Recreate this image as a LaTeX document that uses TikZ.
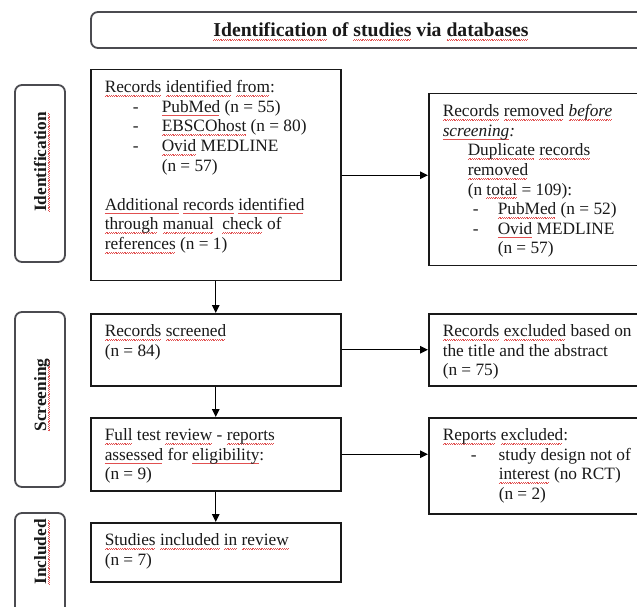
\documentclass[tikz,border=0pt]{standalone}
\usepackage{fontspec}
\setmainfont{Liberation Serif}
\usetikzlibrary{arrows.meta}
\definecolor{sqred}{RGB}{225,80,80}
\definecolor{txt}{RGB}{25,25,25}
\definecolor{frame}{RGB}{75,75,80}
\newsavebox\sqbox
\newcommand\sq[1]{\sbox\sqbox{#1}\rlap{\hbox to\wd\sqbox{\color{sqred}\leaders\hbox{\rule[-3.6pt]{0.9pt}{0.6pt}\rule[-2.9pt]{0.9pt}{0.6pt}}\hfill}}\usebox\sqbox}
\newcommand\bxc[3]{\parbox[c][#2][t]{#1}{\fontsize{17.3}{19.6}\selectfont\color{txt}\leftskip=14pt\parindent=0pt\vspace*{9.3pt}\strut #3}}
\tikzset{
  mainbox/.style={draw=black!90, line width=1.5pt, inner sep=0pt, anchor=north west},
  stagebox/.style={draw=frame, line width=1.8pt, rounded corners=7pt, inner sep=0pt, minimum width=50pt},
  stagelabel/.style={rotate=90, inner sep=0pt, text height=12pt, text depth=0pt, font=\fontsize{17.3}{20}\selectfont\bfseries, text=txt},
  arr/.style={draw=black, line width=1.3pt, -{Triangle[length=8pt,width=7.5pt]}}
}
\begin{document}
\begin{tikzpicture}[x=1pt,y=1pt]
\useasboundingbox (0,0) rectangle (637,606);
\clip (0,0) rectangle (637,606);
\fill[white] (0,0) rectangle (637,606);
% title
\node[draw=frame, line width=1.8pt, rounded corners=7pt, minimum width=560pt, minimum height=36pt,
      text height=16pt, text depth=2pt, inner sep=0pt, font=\fontsize{19.7}{23}\selectfont\bfseries, text=txt]
  (title) at (371,576) {\sq{Identification} of \sq{studies} via \sq{databases}};
% stage boxes
\node[stagebox, minimum height=177pt] (sid) at (40,432.5) {};
\node[stagelabel] (lid) at (40,444) {\sq{Identification}};
\node[stagebox, minimum height=175pt] (ssc) at (40,206.5) {};
\node[stagelabel] (lsc) at (40,211) {\sq{Screening}};
\node[stagebox, minimum height=140pt] (sin) at (40,23) {};
\node[stagelabel] (lin) at (40,54) {\sq{Included}};
% main column
\node[mainbox] (b1) at (90,537) {\bxc{250pt}{211pt}{%
\sq{Records} \sq{identified} \sq{from}:\\
\hspace*{28pt}\makebox[29pt][l]{-}\sq{PubMed} (n = 55)\\
\hspace*{28pt}\makebox[29pt][l]{-}\sq{EBSCOhost} (n = 80)\\
\hspace*{28pt}\makebox[29pt][l]{-}\sq{Ovid} MEDLINE\\
\hspace*{57pt}(n = 57)\\[19.6pt]
\sq{Additional} \sq{records} \sq{identified}\\
\sq{through} \sq{manual}\ \ \sq{check} of\\
\sq{references} (n = 1)}};
\node[mainbox] (b2) at (90,293) {\bxc{250pt}{72pt}{%
\sq{Records} \sq{screened}\\
(n = 84)}};
\node[mainbox] (b3) at (90,189) {\bxc{250pt}{73pt}{%
\sq{Full} test \sq{review}\ - \sq{reports}\\
\sq{assessed} for \sq{eligibility}:\\
(n = 9)}};
\node[mainbox] (b4) at (90,84) {\bxc{250pt}{59pt}{%
\sq{Studies} \sq{included} \sq{in} \sq{review}\\
(n = 7)}};
% right column
\node[mainbox] (r1) at (428,513) {\bxc{223pt}{172pt}{%
\sq{Records} \sq{removed} \textit{\sq{before}}\\
\textit{\sq{screening}:}\\
\hspace*{25pt}\sq{Duplicate} \sq{records}\\
\hspace*{25pt}\sq{removed}\\
\hspace*{25pt}(n \sq{total} = 109):\\
\hspace*{30pt}\makebox[25pt][l]{-}\sq{PubMed} (n = 52)\\
\hspace*{30pt}\makebox[25pt][l]{-}\sq{Ovid} MEDLINE\\
\hspace*{55pt}(n = 57)}};
\node[mainbox] (r2) at (428,293) {\bxc{223pt}{72pt}{%
\sq{Records} \sq{excluded} based on\\
the title and the abstract\\
(n = 75)}};
\node[mainbox] (r3) at (428,189) {\bxc{223pt}{96pt}{%
\sq{Reports} \sq{excluded}:\\
\hspace*{28pt}\makebox[28pt][l]{-}study design not of\\
\hspace*{56pt}\sq{interest} (no RCT)\\
\hspace*{56pt}(n = 2)}};
% connectors
\draw[arr] (b1) -- (b2);
\draw[arr] (b2) -- (b3);
\draw[arr] (b3) -- (b4);
\draw[arr] (b1.east) -- (b1.east -| r1.west);
\draw[arr] (b2) -- (r2);
\draw[arr] (b3.east) -- (b3.east -| r3.west);
\end{tikzpicture}
\end{document}
